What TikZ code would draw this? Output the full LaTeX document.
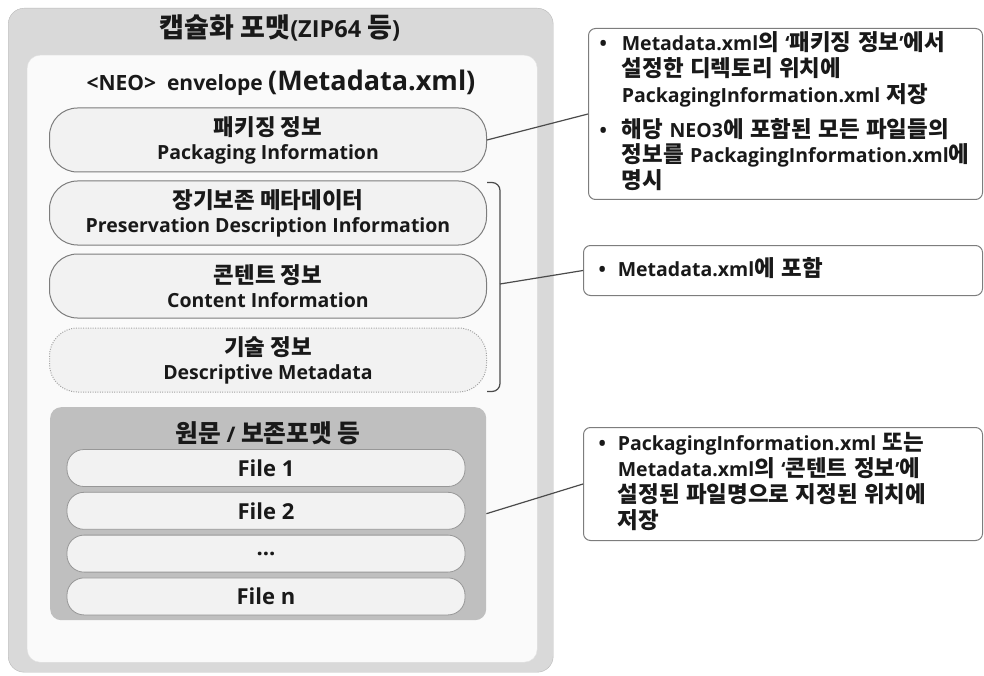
\documentclass[tikz,border=0pt]{standalone}
\usepackage{fontspec}
\setmainfont{Open Sans}
\newfontfamily\krfont{Noto Sans CJK KR}[Scale=1.15]
% Hangul syllables get the Korean face, everything else stays in Open Sans
\XeTeXinterchartokenstate=1
\newXeTeXintercharclass\hangulclass
\newcount\hcnt
\hcnt="AC00
\loop \XeTeXcharclass\hcnt=\hangulclass \advance\hcnt by 1 \ifnum\hcnt<"D7A4 \repeat
\XeTeXinterchartoks 0 \hangulclass = {\krfont}
\XeTeXinterchartoks 4095 \hangulclass = {\krfont}
\XeTeXinterchartoks \hangulclass 0 = {\rmfamily}
\XeTeXinterchartoks \hangulclass 4095 = {\rmfamily}
\usetikzlibrary{calc}
\usetikzlibrary{positioning}
\definecolor{shellgray}{RGB}{217,217,217}
\definecolor{envwhite}{RGB}{250,250,250}
\definecolor{pillgray}{RGB}{242,242,242}
\definecolor{rimgray}{RGB}{125,125,125}
\definecolor{origgray}{RGB}{191,191,191}
\definecolor{inkgray}{RGB}{25,25,25}
\definecolor{wiregray}{RGB}{75,75,75}
\tikzset{
  every node/.style={text=inkgray},
  shellbox/.style={draw=shellgray!85!black, fill=shellgray, rounded corners=16pt, anchor=north west, inner sep=0pt},
  envbox/.style={draw=shellgray!70, fill=envwhite, rounded corners=13pt, anchor=north west, inner sep=0pt},
  origbox/.style={fill=origgray, rounded corners=11pt, anchor=north west, inner sep=0pt},
  pill/.style={draw=rimgray, fill=pillgray, line width=1pt, rounded corners=28pt, minimum width=437pt, minimum height=64pt, inner sep=0pt, align=center, font=\bfseries\fontsize{19.5}{24}\selectfont},
  filepill/.style={draw=rimgray!80, fill=pillgray, line width=0.8pt, rounded corners=17pt, minimum width=398pt, minimum height=37pt, inner sep=0pt, font=\bfseries\fontsize{22}{24}\selectfont},
  notebox/.style={draw=rimgray, fill=white, line width=1pt, rounded corners=7pt, anchor=north west, inner ysep=0pt, align=left, font=\bfseries\fontsize{19.5}{23.5}\selectfont},
  wire/.style={draw=wiregray, line width=1.2pt}
}

\begin{document}
\begin{tikzpicture}[x=1pt, y=-1pt]
  \useasboundingbox (0,0) rectangle (984,676);

  % containers
  \node[shellbox, minimum width=545pt, minimum height=664pt] (zipbox) at (8,8) {};
  \node[font=\bfseries\fontsize{23.5}{26}\selectfont] (ziptitle) at (280,28) {캡슐화 포맷(ZIP64 등)};
  \node[envbox, minimum width=510pt, minimum height=607pt] (envbox) at (27,55) {};
  \node[font=\bfseries] (envtitle) at (281,83) {{\fontsize{21}{25}\selectfont <NEO>\ \ envelope }{\fontsize{27}{30}\selectfont (Metadata.xml)}};

  % envelope parts
  \node[pill] (pack) at (268,140) {패키징 정보\\Packaging Information};
  \node[pill, below=8pt of pack] (pres) {장기보존 메타데이터\\Preservation Description Information};
  \node[pill, below=8pt of pres] (cont) {콘텐트 정보\\Content Information};
  \node[pill, below=9pt of cont, draw=rimgray!70, dash pattern=on 1pt off 1.4pt] (desc) {기술 정보\\Descriptive Metadata};

  % original files
  \node[origbox, minimum width=436pt, minimum height=213pt] (orig) at (50,407) {};
  \node[font=\bfseries\fontsize{21.5}{24}\selectfont] (origtitle) at (268,433) {원문 / 보존포맷 등};
  \node[filepill] (file1) at (266,468) {File 1};
  \node[filepill, below=5pt of file1] (file2) {File 2};
  \node[filepill, below=5pt of file2] (filedots) {...};
  \node[filepill, below=5pt of filedots] (filen) {File n};

  % notes
  \node[notebox, inner xsep=11pt, text width=372pt, minimum height=171pt] (note1) at (588,28) {%
    \begin{tabular}{@{}l@{\hspace{15pt}}l@{}}
      • & Metadata.xml의 ‘패키징 정보’에서\\
        & 설정한 디렉토리 위치에\\
        & PackagingInformation.xml 저장\\[8pt]
      • & 해당 NEO3에 포함된 모든 파일들의\\
        & 정보를 PackagingInformation.xml에\\
        & 명시
    \end{tabular}};
  \node[notebox, inner xsep=15pt, text width=369pt, minimum height=50pt] (note2) at (583,245) {%
    \begin{tabular}{@{}l@{\hspace{12pt}}l@{}}
      • & Metadata.xml에 포함
    \end{tabular}};
  \node[notebox, inner xsep=15pt, text width=369pt, minimum height=113pt] (note3) at (583,427) {%
    \begin{tabular}{@{}l@{\hspace{12pt}}l@{}}
      • & PackagingInformation.xml 또는\\
        & Metadata.xml의 ‘콘텐트 정보’에\\
        & 설정된 파일명으로 지정된 위치에\\
        & 저장
    \end{tabular}};

  % bracket and leaders
  \coordinate (brkmid) at ($(cont.east)+(13,-2)$);
  \draw[wire, rounded corners=8pt] ([yshift=-2pt]pres.north east) -| (brkmid) |- ([yshift=1pt]desc.south east);
  \draw[wire] (pack.east) -- (note1.west);
  \draw[wire] (brkmid) -- (note2.west);
  \draw[wire] (orig.east) -- (note3.west);
\end{tikzpicture}
\end{document}
